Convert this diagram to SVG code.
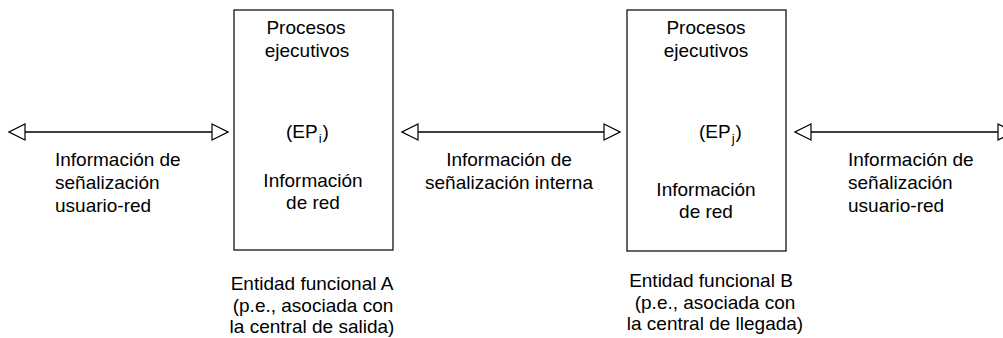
<svg xmlns="http://www.w3.org/2000/svg" width="1003" height="338" viewBox="0 0 1003 338">
<style>
text{font-family:"Liberation Sans",Arial,sans-serif;font-size:19px;fill:#000}
.c{text-anchor:middle}
.box{fill:#fff;stroke:#000;stroke-width:1.2}
.ln{stroke:#000;stroke-width:1.6;fill:none}
.sub{font-size:13px}
</style>
<defs>
<marker id="ah" viewBox="0 0 18 18" refX="17" refY="9" markerWidth="18" markerHeight="18" markerUnits="userSpaceOnUse" orient="auto-start-reverse">
<path d="M1,1 L17,9 L1,17 Z" fill="#fff" stroke="#000" stroke-width="1.2"/>
</marker>
</defs>
<rect width="1003" height="338" fill="#fff"/>
<g id="connectors">
<line class="ln" x1="9" y1="132" x2="228" y2="132" marker-start="url(#ah)" marker-end="url(#ah)"/>
<line class="ln" x1="402" y1="132" x2="620" y2="132" marker-start="url(#ah)" marker-end="url(#ah)"/>
<line class="ln" x1="795" y1="132" x2="1014" y2="132" marker-start="url(#ah)" marker-end="url(#ah)"/>
</g>
<g id="label-left">
<text x="55" y="166">Información de</text>
<text x="55" y="189">señalización</text>
<text x="55" y="212">usuario-red</text>
</g>
<g id="label-mid">
<text class="c" x="509" y="166">Información de</text>
<text class="c" x="509" y="189">señalización interna</text>
</g>
<g id="label-right">
<text x="848" y="166">Información de</text>
<text x="848" y="189">señalización</text>
<text x="848" y="212">usuario-red</text>
</g>
<g id="nodeA">
<rect class="box" x="234" y="10" width="159" height="240"/>
<text class="c" x="306" y="34">Procesos</text>
<text class="c" x="307" y="57">ejecutivos</text>
<text x="286" y="138">(EP<tspan class="sub" dx="1" dy="5">i</tspan><tspan dx="1" dy="-5">)</tspan></text>
<text class="c" x="313" y="187">Información</text>
<text class="c" x="313" y="209">de red</text>
<text class="c" x="312" y="290">Entidad funcional A</text>
<text class="c" x="313" y="312">(p.e., asociada con</text>
<text class="c" x="312" y="333">la central de salida)</text>
</g>
<g id="nodeB">
<rect class="box" x="627" y="10" width="159" height="241"/>
<text class="c" x="706" y="34">Procesos</text>
<text class="c" x="706" y="57">ejecutivos</text>
<text x="699" y="138">(EP<tspan class="sub" dx="1" dy="5">j</tspan><tspan dx="1" dy="-5">)</tspan></text>
<text class="c" x="706" y="196">Información</text>
<text class="c" x="706" y="218">de red</text>
<text class="c" x="711" y="287">Entidad funcional B</text>
<text class="c" x="715" y="309">(p.e., asociada con</text>
<text class="c" x="715" y="330">la central de llegada)</text>
</g>
</svg>
